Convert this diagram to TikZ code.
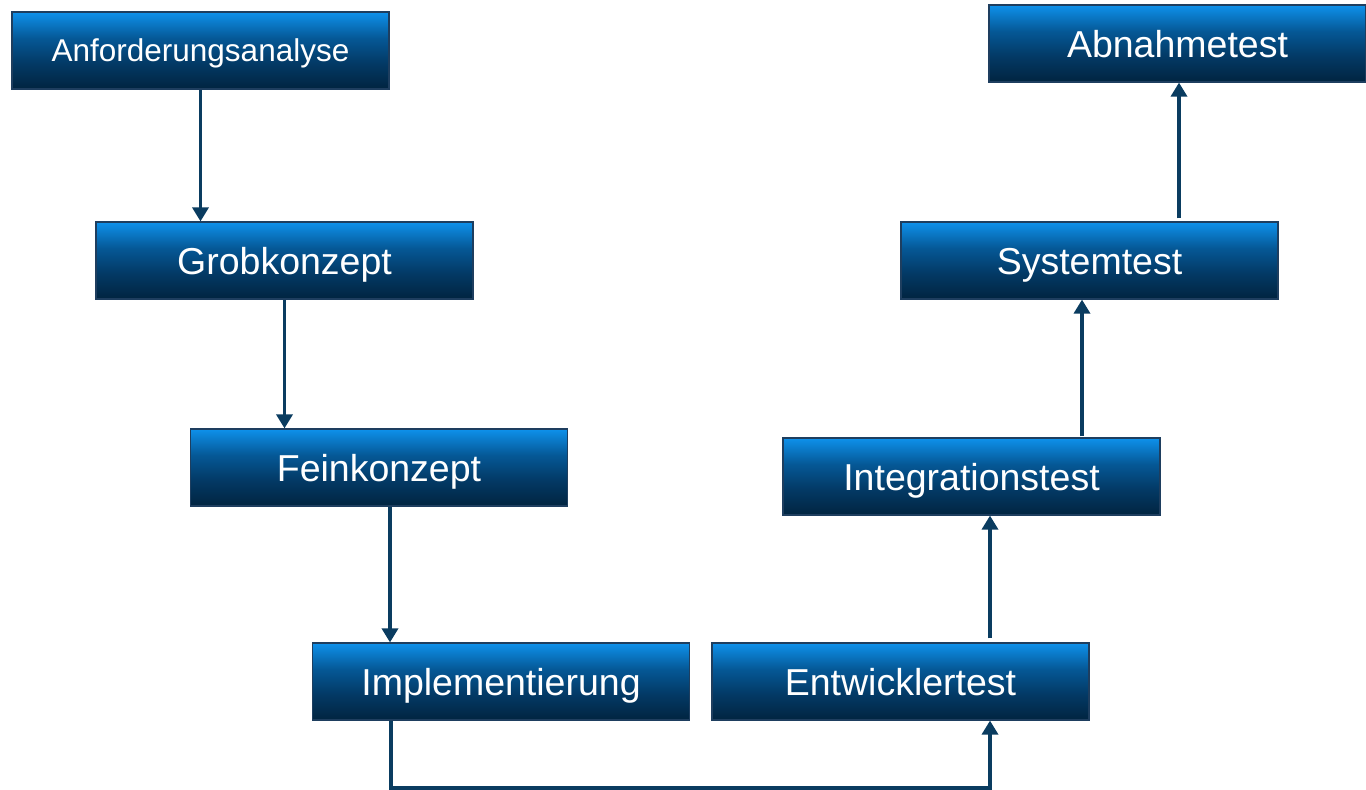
\documentclass[tikz,border=0pt]{standalone}
\usepackage{fontspec}
\setmainfont{Liberation Sans}
\usetikzlibrary{arrows.meta}
\definecolor{boxdk}{RGB}{1,36,64}
\definecolor{boxm1}{RGB}{3,58,102}
\definecolor{boxm2}{RGB}{5,88,150}
\definecolor{boxlt}{RGB}{14,145,235}
\definecolor{boxline}{RGB}{30,62,95}
\definecolor{arrcol}{RGB}{10,60,96}
\pgfdeclareverticalshading{boxshade}{100bp}{color(0bp)=(boxdk); color(25bp)=(boxdk); color(42bp)=(boxm1); color(58bp)=(boxm2); color(75bp)=(boxlt); color(100bp)=(boxlt)}
\tikzset{
  stage/.style={draw=boxline, line width=1.2pt, shading=boxshade, minimum width=377pt, minimum height=77pt, inner sep=0pt, text=white, font=\fontsize{37.5}{40}\selectfont, text height=27pt, text depth=0pt},
  stagesmall/.style={stage, font=\fontsize{31.5}{34}\selectfont, text height=22.5pt},
  arr/.style={draw=arrcol, line width=3.4pt, -{Triangle[width=16pt,length=14pt]}},
  link/.style={draw=arrcol, line width=3.4pt}
}
\begin{document}
\begin{tikzpicture}[x=1pt,y=-1pt]
\useasboundingbox (0,0) rectangle (1366,790);
\node[stagesmall] (anf) at (200.5,50.5) {Anforderungsanalyse};
\node[stage] (grob) at (284.5,260.5) {Grobkonzept};
\node[stage] (fein) at (379,467.5) {Feinkonzept};
\node[stage] (impl) at (501,681.5) {Implementierung};
\node[stage] (entw) at (900.5,681.5) {Entwicklertest};
\node[stage] (integ) at (971.5,476.5) {Integrationstest};
\node[stage] (sys) at (1089.5,260.5) {Systemtest};
\node[stage] (abn) at (1177.5,43.5) {Abnahmetest};
\coordinate (bot) at (0,788);
\draw[arr] (anf.south) -- (anf.south |- grob.north);
\draw[arr] (grob.south) -- (grob.south |- fein.north);
\draw[arr] ([xshift=11pt]fein.south) -- ([xshift=11pt]fein.south |- impl.north);
\draw[arr] ([xshift=-110pt]impl.south) -- ([xshift=-110pt]impl.south |- bot) -| ([xshift=89.5pt]entw.south);
\draw[arr] ([xshift=89.5pt,yshift=4pt]entw.north) -- ([xshift=89.5pt]entw.north |- integ.south);
\draw[arr] ([xshift=110.5pt,yshift=1pt]integ.north) -- ([xshift=110.5pt]integ.north |- sys.south);
\draw[arr] ([xshift=89.5pt,yshift=3pt]sys.north) -- ([xshift=89.5pt]sys.north |- abn.south);
\end{tikzpicture}
\end{document}
